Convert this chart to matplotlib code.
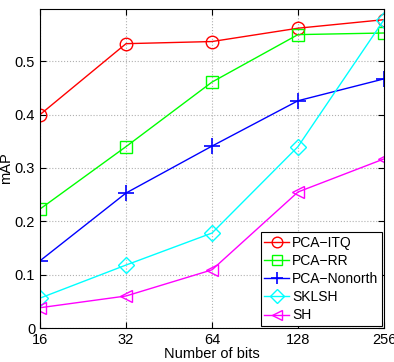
import matplotlib
matplotlib.use('Agg')
from matplotlib import pyplot as plt
import numpy as np

plt.rcParams['font.family'] = ['Liberation Sans', 'DejaVu Sans']

bits = [16, 32, 64, 128, 256]
itq = [0.400, 0.533, 0.537, 0.562, 0.578]
rr = [0.223, 0.340, 0.461, 0.550, 0.553]
nonorth = [0.126, 0.253, 0.341, 0.426, 0.467]
sklsh = [0.056, 0.118, 0.178, 0.340, 0.578]
sh = [0.038, 0.060, 0.109, 0.255, 0.317]

fig = plt.figure(figsize=(3.94, 3.62), dpi=100)
ax = fig.add_axes([40/394, 1 - 328/362, 344/394, 319/362])

ax.plot(bits, itq, 'r-o', mfc='none', ms=9, lw=1, label='PCA\u2212ITQ')
ax.plot(bits, rr, '-s', color='#00ff00', mfc='none', ms=9, lw=1, label='PCA\u2212RR')
ax.plot(bits, nonorth, 'b-+', ms=11, mew=1.2, lw=1, label='PCA\u2212Nonorth')
ax.plot(bits, sklsh, '-D', color='cyan', mfc='none', ms=8, lw=1, label='SKLSH')
ax.plot(bits, sh, '-<', color='magenta', mfc='none', ms=9, lw=1, label='SH')

ax.set_xscale('log', base=2)
ax.set_xlim(16, 256)
ax.set_ylim(0, 0.598)
ax.set_xticks(bits)
ax.set_xticklabels([str(b) for b in bits])
ax.minorticks_off()
ax.set_yticks([0, 0.1, 0.2, 0.3, 0.4, 0.5])
ax.set_yticklabels(['0', '0.1', '0.2', '0.3', '0.4', '0.5'])
ax.tick_params(direction='in', top=True, right=True, labelsize=10.5, length=4)
ax.grid(True, linestyle=':', color='#b0b0b0', lw=0.8)
ax.set_xlabel('Number of bits', fontsize=10.5, labelpad=0)
ax.set_ylabel('mAP', fontsize=10.5, labelpad=1)

leg = ax.legend(loc='lower right', fontsize=10, fancybox=False, framealpha=1,
                edgecolor='black', borderaxespad=0.15, handlelength=1.8,
                labelspacing=0.3, borderpad=0.25, handletextpad=0.2,
                markerscale=0.85)
leg.get_frame().set_linewidth(0.8)

fig.savefig('out.png', dpi=100)
